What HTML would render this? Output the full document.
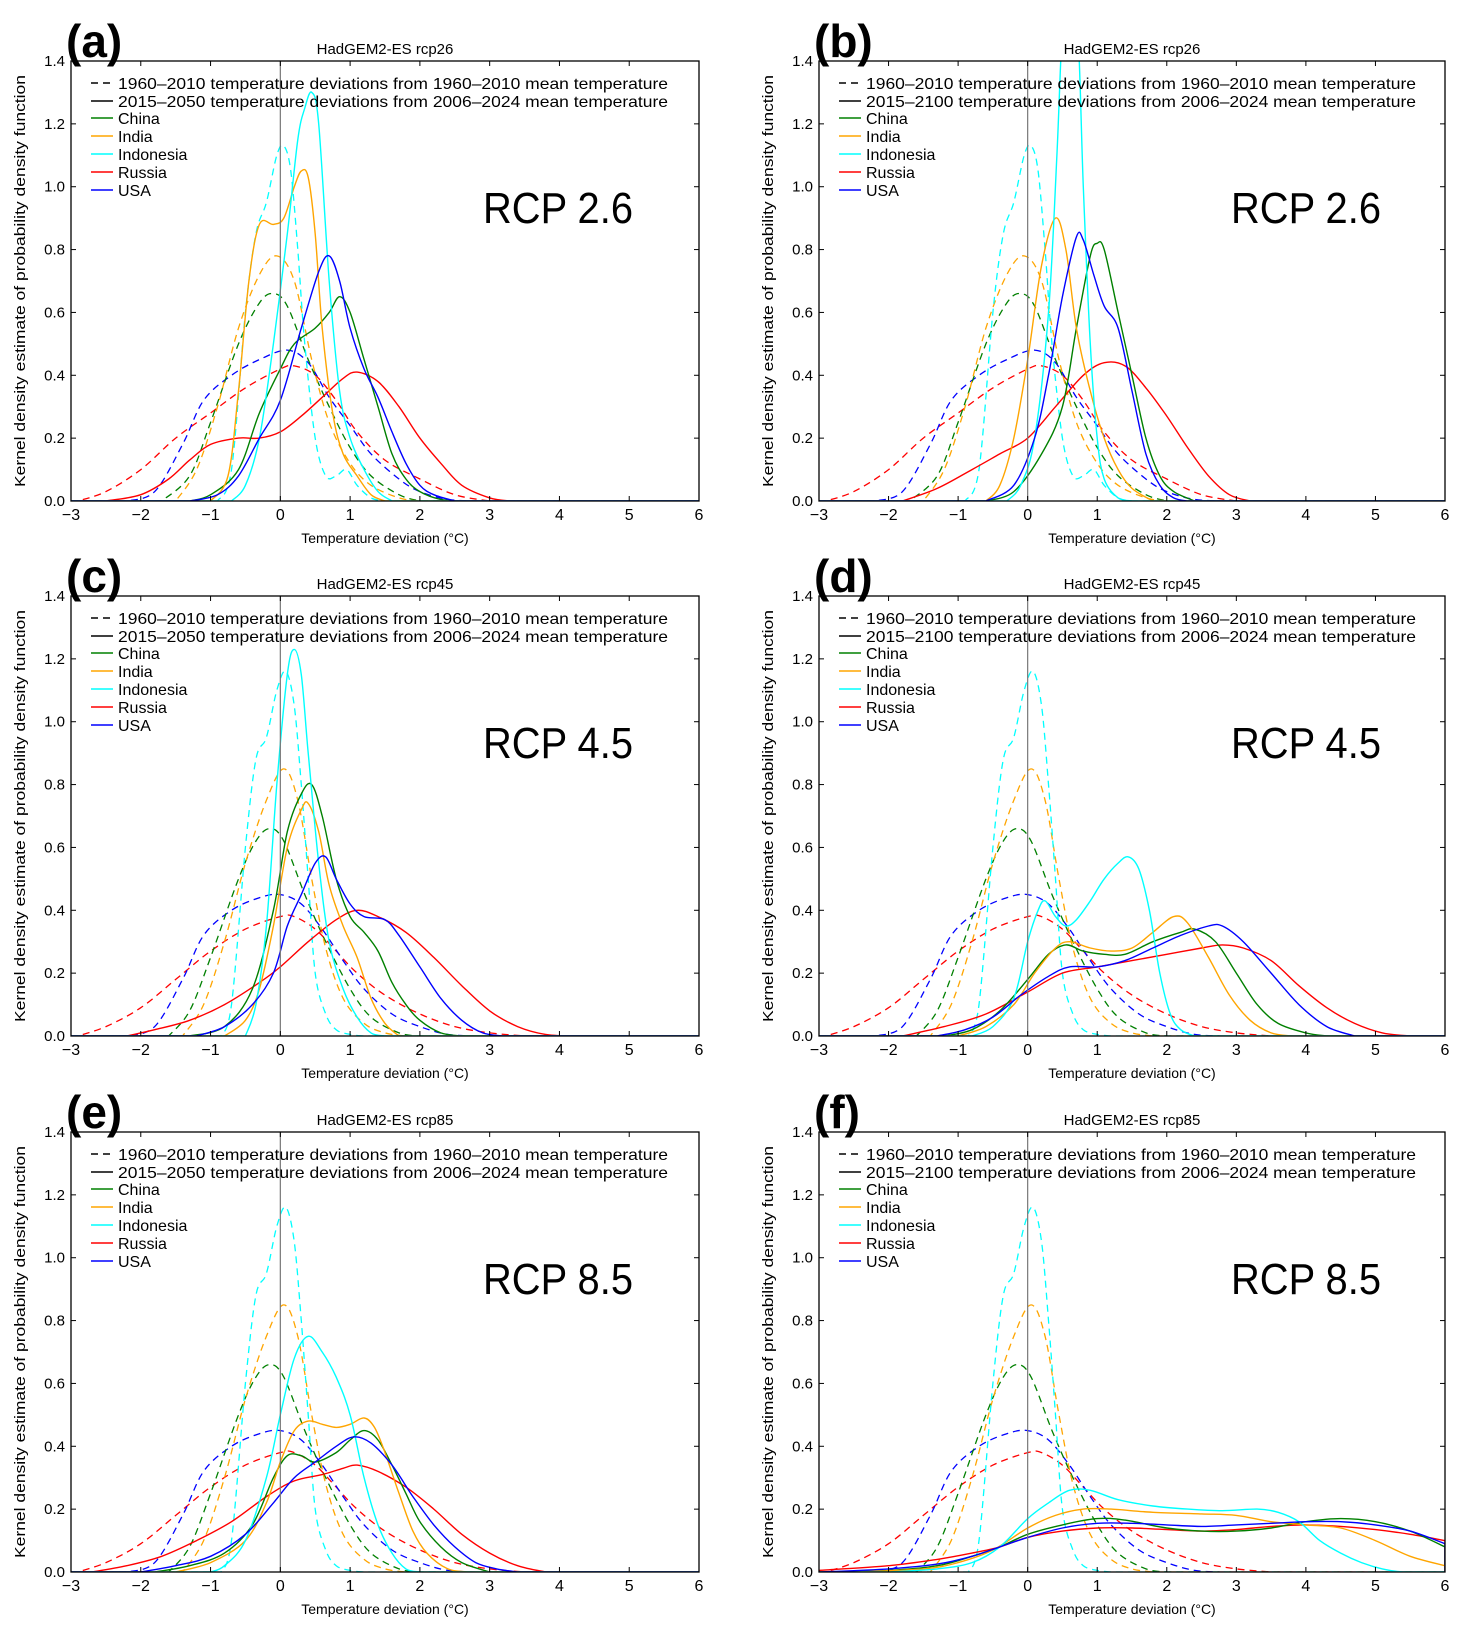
<!DOCTYPE html>
<html><head><meta charset="utf-8"><style>
html,body{margin:0;padding:0;background:#fff}
svg{display:block}
text{font-family:"Liberation Sans",sans-serif}
</style></head><body>
<svg id="s" width="1468" height="1633" xmlns="http://www.w3.org/2000/svg"></svg>
<script>
const S=document.getElementById('s');
let out='';
const C={china:'#008000',india:'#ffa500',indo:'#00ffff',russia:'#ff0000',usa:'#0000ff'};
const D1={
indo:[[-0.9,0],[-0.7,0.1],[-0.5,0.6],[-0.35,0.85],[-0.2,0.95],[-0.05,1.1],[0.05,1.13],[0.15,1.05],[0.25,0.8],[0.35,0.5],[0.5,0.2],[0.65,0.08],[0.8,0.08],[0.95,0.1],[1.1,0.05],[1.3,0.01],[1.5,0]],
india:[[-1.5,0],[-1.2,0.1],[-0.9,0.3],[-0.6,0.55],[-0.3,0.72],[-0.05,0.78],[0.2,0.7],[0.45,0.45],[0.7,0.25],[1,0.12],[1.3,0.05],[1.7,0.01],[2,0]],
china:[[-1.7,0],[-1.3,0.08],[-1,0.25],[-0.6,0.5],[-0.3,0.63],[-0.1,0.66],[0.1,0.62],[0.4,0.45],[0.7,0.3],[1,0.17],[1.3,0.08],[1.7,0.02],[2,0]],
usa:[[-2.2,0],[-1.8,0.03],[-1.4,0.18],[-1.1,0.32],[-0.7,0.4],[-0.3,0.45],[0.1,0.48],[0.4,0.44],[0.7,0.33],[1,0.24],[1.3,0.15],[1.7,0.07],[2,0.03],[2.4,0.005],[2.8,0]],
russia:[[-2.9,0],[-2.5,0.03],[-2,0.1],[-1.5,0.2],[-1,0.28],[-0.5,0.36],[0,0.42],[0.2,0.43],[0.5,0.4],[0.8,0.32],[1.1,0.22],[1.5,0.13],[2,0.07],[2.5,0.02],[3,0]]};
const D2={
indo:[[-0.85,0],[-0.7,0.1],[-0.5,0.6],[-0.35,0.88],[-0.2,0.95],[-0.05,1.1],[0.08,1.16],[0.2,1.05],[0.3,0.8],[0.4,0.5],[0.5,0.2],[0.65,0.07],[0.8,0.02],[1.0,0.005],[1.2,0]],
india:[[-1.4,0],[-1.1,0.1],[-0.8,0.3],[-0.5,0.55],[-0.2,0.75],[0.05,0.85],[0.25,0.75],[0.45,0.5],[0.65,0.28],[0.9,0.12],[1.2,0.04],[1.5,0.01],[1.8,0]],
china:[[-1.6,0],[-1.3,0.08],[-1,0.25],[-0.6,0.5],[-0.35,0.62],[-0.15,0.66],[0.05,0.62],[0.35,0.45],[0.65,0.3],[1,0.15],[1.3,0.06],[1.7,0.01],[2,0]],
usa:[[-2.2,0],[-1.8,0.03],[-1.4,0.18],[-1.1,0.32],[-0.7,0.4],[-0.3,0.44],[0,0.45],[0.3,0.42],[0.6,0.34],[0.9,0.24],[1.2,0.15],[1.6,0.07],[2,0.03],[2.4,0.005],[2.8,0]],
russia:[[-2.9,0],[-2.5,0.03],[-2,0.09],[-1.5,0.18],[-1,0.27],[-0.5,0.34],[0,0.38],[0.2,0.38],[0.5,0.34],[0.8,0.27],[1.1,0.2],[1.5,0.13],[2,0.07],[2.5,0.03],[3,0.01],[3.5,0]]};
const P=[
{x0:71,x1:699,y0:61,lab:'(a)',t:'HadGEM2-ES rcp26',per:'2015–2050',rcp:'RCP 2.6',D:D1,S:{
indo:[[-0.7,0],[-0.5,0.05],[-0.3,0.2],[-0.1,0.5],[0.1,0.85],[0.25,1.15],[0.35,1.25],[0.45,1.3],[0.55,1.2],[0.7,0.7],[0.85,0.35],[1,0.2],[1.2,0.1],[1.4,0.03],[1.6,0]],
india:[[-1,0],[-0.75,0.08],[-0.6,0.35],[-0.45,0.7],[-0.3,0.88],[-0.1,0.88],[0.05,0.9],[0.2,1.0],[0.3,1.05],[0.4,1.03],[0.5,0.85],[0.6,0.55],[0.75,0.28],[0.9,0.15],[1.1,0.08],[1.3,0.02],[1.5,0]],
china:[[-1.3,0],[-1,0.02],[-0.6,0.1],[-0.3,0.28],[0,0.42],[0.2,0.5],[0.5,0.55],[0.7,0.6],[0.85,0.65],[1,0.6],[1.2,0.45],[1.4,0.3],[1.6,0.15],[1.8,0.07],[2,0.03],[2.3,0.005],[2.6,0]],
usa:[[-1.3,0],[-0.9,0.02],[-0.6,0.08],[-0.3,0.2],[0,0.32],[0.3,0.55],[0.55,0.73],[0.7,0.78],[0.85,0.7],[1,0.55],[1.2,0.42],[1.4,0.33],[1.6,0.22],[1.8,0.12],[2,0.05],[2.2,0.02],[2.5,0]],
russia:[[-2.5,0],[-2,0.02],[-1.6,0.07],[-1.3,0.13],[-1,0.18],[-0.6,0.2],[-0.3,0.2],[0,0.22],[0.3,0.27],[0.6,0.33],[0.9,0.39],[1.1,0.41],[1.4,0.38],[1.7,0.3],[2,0.2],[2.3,0.12],[2.6,0.05],[3,0.01],[3.3,0]]}},
{x0:819,x1:1445,y0:61,lab:'(b)',t:'HadGEM2-ES rcp26',per:'2015–2100',rcp:'RCP 2.6',D:D1,S:{
indo:[[-0.3,0],[-0.1,0.05],[0.1,0.2],[0.3,0.6],[0.42,1.1],[0.5,1.5],[0.6,1.6],[0.72,1.5],[0.8,1.0],[0.9,0.5],[1,0.2],[1.1,0.07],[1.3,0.01],[1.5,0]],
india:[[-0.6,0],[-0.4,0.05],[-0.2,0.2],[0,0.45],[0.2,0.75],[0.4,0.9],[0.55,0.8],[0.7,0.55],[0.9,0.35],[1.1,0.2],[1.3,0.1],[1.5,0.04],[1.8,0]],
usa:[[-0.6,0],[-0.2,0.05],[0.1,0.2],[0.3,0.4],[0.5,0.65],[0.7,0.84],[0.8,0.83],[0.95,0.72],[1.1,0.62],[1.3,0.55],[1.5,0.35],[1.7,0.15],[1.9,0.05],[2.1,0.01],[2.3,0]],
china:[[-0.6,0],[-0.2,0.03],[0.2,0.15],[0.5,0.3],[0.7,0.55],[0.9,0.78],[1,0.82],[1.1,0.8],[1.3,0.6],[1.5,0.4],[1.7,0.2],[1.9,0.08],[2.1,0.03],[2.4,0]],
russia:[[-1.8,0],[-1.3,0.04],[-0.8,0.1],[-0.4,0.15],[0,0.2],[0.4,0.3],[0.8,0.4],[1.1,0.44],[1.4,0.43],[1.7,0.36],[2,0.27],[2.3,0.17],[2.6,0.08],[2.9,0.02],[3.2,0]]}},
{x0:71,x1:699,y0:596,lab:'(c)',t:'HadGEM2-ES rcp45',per:'2015–2050',rcp:'RCP 4.5',D:D2,S:{
indo:[[-0.5,0],[-0.35,0.1],[-0.2,0.35],[-0.05,0.8],[0.1,1.15],[0.2,1.23],[0.3,1.15],[0.4,0.9],[0.55,0.55],[0.7,0.3],[0.9,0.15],[1.1,0.06],[1.3,0.01],[1.5,0]],
india:[[-0.8,0],[-0.5,0.05],[-0.3,0.15],[-0.1,0.35],[0.1,0.6],[0.3,0.72],[0.4,0.74],[0.55,0.65],[0.7,0.48],[0.9,0.35],[1.1,0.25],[1.3,0.12],[1.5,0.04],[1.7,0]],
china:[[-1.3,0],[-0.8,0.03],[-0.4,0.15],[-0.1,0.4],[0.1,0.65],[0.3,0.77],[0.45,0.8],[0.6,0.7],[0.8,0.5],[1,0.38],[1.2,0.33],[1.4,0.27],[1.6,0.17],[1.8,0.1],[2,0.05],[2.3,0.01],[2.6,0]],
usa:[[-1.2,0],[-0.8,0.03],[-0.4,0.1],[-0.1,0.2],[0.1,0.35],[0.3,0.45],[0.5,0.55],[0.65,0.57],[0.8,0.5],[1,0.42],[1.2,0.38],[1.5,0.37],[1.7,0.32],[2,0.22],[2.3,0.12],[2.6,0.05],[2.9,0.01],[3.2,0]],
russia:[[-2.2,0],[-1.8,0.02],[-1.3,0.05],[-0.8,0.1],[-0.3,0.17],[0,0.22],[0.4,0.3],[0.8,0.37],[1.1,0.4],[1.4,0.38],[1.8,0.33],[2.2,0.25],[2.6,0.16],[3,0.08],[3.4,0.03],[3.8,0.005],[4.2,0]]}},
{x0:819,x1:1445,y0:596,lab:'(d)',t:'HadGEM2-ES rcp45',per:'2015–2100',rcp:'RCP 4.5',D:D2,S:{
indo:[[-0.8,0],[-0.5,0.03],[-0.2,0.12],[0,0.3],[0.15,0.4],[0.25,0.43],[0.4,0.38],[0.55,0.35],[0.7,0.37],[0.9,0.43],[1.1,0.5],[1.3,0.55],[1.45,0.57],[1.6,0.53],[1.75,0.4],[1.9,0.2],[2.05,0.07],[2.2,0.02],[2.4,0]],
india:[[-1,0],[-0.6,0.03],[-0.2,0.1],[0.1,0.2],[0.4,0.28],[0.6,0.3],[0.9,0.28],[1.2,0.27],[1.5,0.28],[1.8,0.33],[2.1,0.38],[2.3,0.36],[2.6,0.25],[2.9,0.13],[3.2,0.05],[3.5,0.01],[3.8,0]],
china:[[-1.2,0],[-0.8,0.02],[-0.4,0.08],[0,0.18],[0.3,0.26],[0.55,0.29],[0.8,0.27],[1.1,0.26],[1.4,0.26],[1.8,0.3],[2.2,0.33],[2.4,0.34],[2.7,0.3],[3,0.2],[3.3,0.1],[3.6,0.04],[4,0.01],[4.3,0]],
usa:[[-1.3,0],[-0.9,0.02],[-0.5,0.06],[-0.1,0.13],[0.3,0.19],[0.6,0.22],[1,0.22],[1.4,0.24],[1.8,0.28],[2.2,0.32],[2.6,0.35],[2.8,0.35],[3.1,0.3],[3.5,0.2],[3.9,0.1],[4.3,0.03],[4.7,0]],
russia:[[-1.8,0],[-1.2,0.03],[-0.6,0.07],[0,0.14],[0.5,0.2],[1,0.22],[1.5,0.24],[2,0.26],[2.5,0.28],[2.8,0.29],[3.1,0.28],[3.5,0.24],[3.9,0.16],[4.3,0.09],[4.7,0.04],[5.1,0.01],[5.5,0]]}},
{x0:71,x1:699,y0:1132,lab:'(e)',t:'HadGEM2-ES rcp85',per:'2015–2050',rcp:'RCP 8.5',D:D2,S:{
indo:[[-1,0],[-0.8,0.02],[-0.5,0.1],[-0.2,0.3],[0,0.5],[0.2,0.68],[0.4,0.75],[0.6,0.7],[0.8,0.62],[1,0.5],[1.2,0.3],[1.4,0.15],[1.6,0.06],[1.8,0.01],[2,0]],
india:[[-1.5,0],[-1,0.03],[-0.5,0.1],[-0.2,0.22],[0,0.35],[0.2,0.45],[0.4,0.48],[0.6,0.47],[0.8,0.46],[1,0.47],[1.2,0.49],[1.35,0.46],[1.5,0.38],[1.7,0.25],[1.9,0.13],[2.1,0.06],[2.4,0.01],[2.7,0]],
china:[[-1.8,0],[-1.3,0.02],[-0.8,0.06],[-0.4,0.15],[-0.1,0.3],[0.1,0.37],[0.3,0.37],[0.5,0.35],[0.8,0.38],[1,0.42],[1.2,0.45],[1.4,0.42],[1.6,0.34],[1.8,0.25],[2,0.16],[2.3,0.08],[2.6,0.03],[3,0]],
usa:[[-2,0],[-1.5,0.02],[-1,0.05],[-0.5,0.12],[-0.1,0.22],[0.2,0.3],[0.5,0.35],[0.8,0.4],[1.05,0.43],[1.3,0.41],[1.6,0.34],[1.9,0.24],[2.2,0.15],[2.5,0.08],[2.8,0.03],[3.1,0.01],[3.4,0]],
russia:[[-2.7,0],[-2.2,0.02],[-1.7,0.05],[-1.2,0.1],[-0.7,0.16],[-0.2,0.24],[0.2,0.29],[0.6,0.31],[0.9,0.33],[1.1,0.34],[1.4,0.32],[1.8,0.27],[2.2,0.2],[2.6,0.12],[3,0.06],[3.4,0.02],[3.8,0]]}},
{x0:819,x1:1445,y0:1132,lab:'(f)',t:'HadGEM2-ES rcp85',per:'2015–2100',rcp:'RCP 8.5',D:D2,S:{
indo:[[-2,0],[-1.3,0.01],[-0.8,0.03],[-0.4,0.08],[0,0.17],[0.3,0.22],[0.6,0.26],[0.9,0.26],[1.3,0.23],[1.8,0.21],[2.3,0.2],[2.8,0.195],[3.3,0.2],[3.6,0.19],[3.9,0.16],[4.2,0.1],[4.5,0.06],[4.8,0.03],[5.1,0.01],[5.4,0],[6,0]],
india:[[-2.5,0],[-1.5,0.01],[-1,0.03],[-0.5,0.07],[0,0.14],[0.4,0.18],[0.8,0.2],[1.2,0.2],[1.8,0.19],[2.5,0.185],[3,0.18],[3.5,0.16],[4,0.15],[4.5,0.14],[5,0.1],[5.5,0.05],[6,0.02]],
china:[[-3,0],[-2,0.005],[-1.3,0.02],[-0.8,0.05],[-0.4,0.08],[0,0.12],[0.5,0.15],[1,0.17],[1.4,0.165],[2,0.14],[2.5,0.13],[3,0.13],[3.5,0.14],[4,0.16],[4.5,0.17],[5,0.16],[5.5,0.13],[6,0.08]],
usa:[[-3,0],[-2,0.01],[-1.3,0.025],[-0.8,0.05],[-0.4,0.08],[0,0.11],[0.5,0.14],[1,0.155],[1.5,0.155],[2,0.15],[2.5,0.145],[3,0.15],[3.5,0.155],[4,0.16],[4.5,0.16],[5,0.15],[5.5,0.13],[6,0.09]],
russia:[[-3,0.005],[-2,0.02],[-1.3,0.04],[-0.8,0.06],[-0.4,0.08],[0,0.11],[0.5,0.13],[1,0.14],[1.5,0.14],[2,0.135],[2.5,0.13],[3,0.135],[3.5,0.145],[4,0.15],[4.5,0.145],[5,0.135],[5.5,0.12],[6,0.1]]}}];
const H=440;
P.forEach((p,i)=>{
 const W=p.x1-p.x0, y1=p.y0+H;
 const X=v=>p.x0+(v+3)/9*W, Y=v=>y1-v/1.4*H;
 function path(pts){
  const q=pts.map(a=>[X(a[0]),Y(a[1])]);
  let d='M'+X(-3).toFixed(1)+' '+Y(0).toFixed(1)+' L'+q[0][0].toFixed(1)+' '+q[0][1].toFixed(1);
  for(let k=0;k<q.length-1;k++){
   const p0=q[Math.max(k-1,0)],p1=q[k],p2=q[k+1],p3=q[Math.min(k+2,q.length-1)];
   let c1=[p1[0]+(p2[0]-p0[0])/6,p1[1]+(p2[1]-p0[1])/6],c2=[p2[0]-(p3[0]-p1[0])/6,p2[1]-(p3[1]-p1[1])/6];
   c1[1]=Math.min(c1[1],y1);c2[1]=Math.min(c2[1],y1);
   d+=` C${c1[0].toFixed(1)} ${c1[1].toFixed(1)} ${c2[0].toFixed(1)} ${c2[1].toFixed(1)} ${p2[0].toFixed(1)} ${p2[1].toFixed(1)}`;
  }
  d+=' L'+X(6).toFixed(1)+' '+Y(0).toFixed(1);
  return d;
 }
 out+=`<clipPath id="c${i}"><rect x="${p.x0}" y="${p.y0}" width="${W}" height="${H}"/></clipPath>`;
 out+=`<g clip-path="url(#c${i})">`;
 ['russia','usa','china','india','indo'].forEach(k=>{
  out+=`<path d="${path(p.D[k])}" fill="none" stroke="${C[k]}" stroke-width="1.3" stroke-dasharray="7,5"/>`;
 });
 ['russia','china','india','indo','usa'].forEach(k=>{
  out+=`<path d="${path(p.S[k])}" fill="none" stroke="${C[k]}" stroke-width="1.4"/>`;
 });
 out+=`<line x1="${X(0)}" y1="${p.y0}" x2="${X(0)}" y2="${y1}" stroke="#777" stroke-width="1.2"/>`;
 out+='</g>';
 out+=`<rect x="${p.x0}" y="${p.y0}" width="${W}" height="${H}" fill="none" stroke="#000" stroke-width="1.3"/>`;
 for(let t=-3;t<=6;t++){const x=X(t);
  out+=`<line x1="${x}" y1="${y1}" x2="${x}" y2="${y1-5}" stroke="#000"/><line x1="${x}" y1="${p.y0}" x2="${x}" y2="${p.y0+5}" stroke="#000"/>`;
  out+=`<text x="${x}" y="${y1+19}" font-size="16" text-anchor="middle">${t<0?'−'+(-t):t}</text>`;}
 for(let j=0;j<=7;j++){const v=j*0.2,y=Y(v);
  out+=`<line x1="${p.x0}" y1="${y}" x2="${p.x0+5}" y2="${y}" stroke="#000"/><line x1="${p.x1}" y1="${y}" x2="${p.x1-5}" y2="${y}" stroke="#000"/>`;
  out+=`<text x="${p.x0-6}" y="${y+5}" font-size="15" text-anchor="end">${v.toFixed(1)}</text>`;}
 out+=`<text x="${(p.x0+p.x1)/2}" y="${p.y0-7}" font-size="15" text-anchor="middle">${p.t}</text>`;
 out+=`<text x="${p.x0-5}" y="${p.y0-4}" font-size="46" font-weight="bold">${p.lab}</text>`;
 out+=`<text x="${(p.x0+p.x1)/2}" y="${y1+42}" font-size="14" text-anchor="middle">Temperature deviation (°C)</text>`;
 const yc=p.y0+H/2, xl=p.x0-46;
 out+=`<text transform="translate(${xl},${yc}) rotate(-90)" font-size="15" text-anchor="middle" textLength="412" lengthAdjust="spacingAndGlyphs">Kernel density estimate of probability density function</text>`;
 out+=`<text x="${p.x0+412}" y="${p.y0+162}" font-size="44" textLength="150" lengthAdjust="spacingAndGlyphs">${p.rcp}</text>`;
 const L=[['#000','1960–2010 temperature deviations from 1960–2010 mean temperature',1],['#000',p.per+' temperature deviations from 2006–2024 mean temperature',0],
 [C.china,'China',0],[C.india,'India',0],[C.indo,'Indonesia',0],[C.russia,'Russia',0],[C.usa,'USA',0]];
 const ry=[22,40,57,75,93,111,129];
 L.forEach((l,k)=>{const y=p.y0+ry[k];
  out+=`<line x1="${p.x0+20}" y1="${y}" x2="${p.x0+42}" y2="${y}" stroke="${l[0]}" stroke-width="1.4" ${l[2]?'stroke-dasharray="7,5"':''}/>`;
  out+=`<text x="${p.x0+47}" y="${y+6}" font-size="16" ${k<2?'textLength="550" lengthAdjust="spacingAndGlyphs"':''}>${l[1]}</text>`;});
});
S.innerHTML=out;
</script>
</body></html>
